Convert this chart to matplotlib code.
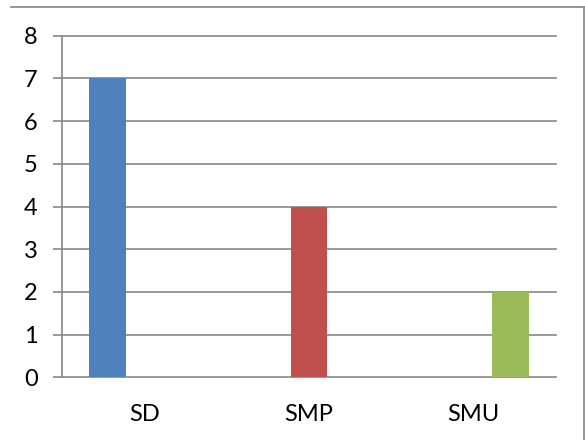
import matplotlib.pyplot as plt
from matplotlib.lines import Line2D
import numpy as np

categories = ['SD', 'SMP', 'SMU']
series_names = ['SD', 'SMP', 'SMU']
series_values = [
    [7, 0, 0],
    [0, 4, 0],
    [0, 0, 2],
]
series_colors = ['#4f81bd', '#c0504d', '#9bbb59']
y_ticks = [0, 1, 2, 3, 4, 5, 6, 7, 8]

plt.rcParams['font.family'] = ['Lato', 'DejaVu Sans']

W, H = 585, 440
fig = plt.figure(figsize=(W / 100, H / 100), dpi=100)
ax = fig.add_axes([62 / W, 1 - 377.3 / H, (556 - 62) / W, (377.3 - 35.7) / H])

grid_color = '#888888'
x = np.arange(len(categories))
width = 1 / 4.5
for i, (name, vals) in enumerate(zip(series_names, series_values)):
    ax.bar(x + (i - 1) * width, vals, width, color=series_colors[i], label=name, zorder=3)

ax.set_xlim(-0.5, len(categories) - 0.5)
ax.set_ylim(0, 8)
ax.set_yticks(y_ticks)
ax.set_xticks(x)
ax.set_xticklabels(categories)
ax.yaxis.grid(True, color=grid_color, linewidth=1.2, zorder=0)
for gl in ax.get_ygridlines():
    gl.set_clip_on(False)
ax.set_axisbelow(True)

for s in ['top', 'right', 'bottom']:
    ax.spines[s].set_visible(False)
ax.spines['left'].set_color(grid_color)
ax.spines['left'].set_linewidth(1.2)
ax.tick_params(axis='y', length=6.5, width=1.2, color=grid_color, pad=11, labelsize=17)
ax.tick_params(axis='x', length=0, pad=19, labelsize=17)

# outer chart border (top and right edges visible)
fig.add_artist(Line2D([11 / W, 583.7 / W], [1 - 6.7 / H, 1 - 6.7 / H], color='#8c8c8c', linewidth=1.3))
fig.add_artist(Line2D([583.7 / W, 583.7 / W], [1 - 6.7 / H, 0], color='#8c8c8c', linewidth=1.3))

fig.savefig('out.png', dpi=100)
